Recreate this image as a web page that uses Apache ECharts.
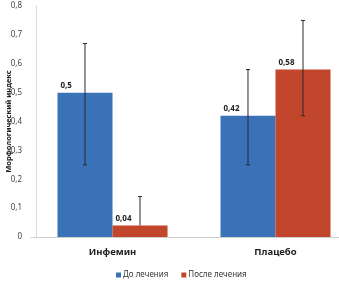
<!DOCTYPE html>
<html>
<head>
<meta charset="utf-8">
<script src="https://cdn.jsdelivr.net/npm/echarts@6/dist/echarts.min.js"></script>
<style>
  html, body { margin: 0; padding: 0; background: #fff; }
  #chart { width: 339px; height: 281px; }
</style>
</head>
<body>
<div id="chart"></div>
<script>
// данные
const categories = ['Инфемин', 'Плацебо']
const seriesNames = ['До лечения', 'После лечения']
const beforeValues = [0.5, 0.42]
const afterValues = [0.04, 0.58]
const beforeLow = [0.25, 0.25]
const beforeHigh = [0.67, 0.58]
const afterLow = [0.04, 0.42]
const afterHigh = [0.14, 0.75]

const colors = ['#3b71b6', '#c1462b']
const gapRatio = 0.325
const font = 'Noto Sans'

const chart = echarts.init(document.getElementById('chart'))

// усы погрешностей поверх столбцов
function errorSeries (name, values, low, high, side) {
  return {
    type: 'custom',
    name: name + ' err',
    z: 10,
    silent: true,
    data: values.map((v, i) => [i, v, low[i], high[i]]),
    renderItem (params, api) {
      const band = api.size([1, 0])[0]
      const barW = band * (1 - gapRatio) / 2
      const x = api.coord([api.value(0), 0])[0] + side * barW / 2
      const yv = api.coord([0, api.value(1)])[1]
      const yl = api.coord([0, api.value(2)])[1]
      const yh = api.coord([0, api.value(3)])[1]
      const style = { stroke: '#2a2a2a', lineWidth: 1 }
      const children = [
        { type: 'line', shape: { x1: x, y1: yl, x2: x, y2: yh }, style }
      ]
      children.push({ type: 'line', shape: { x1: x - 2, y1: yh, x2: x + 2, y2: yh }, style })
      if (Math.abs(yl - yv) > 1) {
        children.push({ type: 'line', shape: { x1: x - 2, y1: yl, x2: x + 2, y2: yl }, style })
      }
      return { type: 'group', children }
    }
  }
}

const barLabel = {
  show: true,
  position: [3, -11],
  fontFamily: font,
  fontSize: 8,
  fontWeight: 'bold',
  color: '#222',
  formatter: p => String(p.value).replace('.', ',')
}

const option = {
  animation: false,
  textStyle: { fontFamily: font },
  grid: { left: 31, top: 6, width: 326, bottom: 44, outerBoundsMode: 'none', containLabel: false },
  legend: {
    data: seriesNames,
    left: 111,
    top: 266,
    icon: 'rect',
    itemWidth: 5,
    itemHeight: 5,
    itemGap: 13,
    textStyle: { fontSize: 8, color: '#333', fontFamily: font, padding: [0, 0, 0, -3] }
  },
  xAxis: {
    type: 'category',
    data: categories,
    axisLine: { lineStyle: { color: '#cfcfcf' } },
    axisTick: { show: false },
    axisLabel: { fontSize: 9.5, fontWeight: 'bold', color: '#222', margin: 10 }
  },
  yAxis: {
    type: 'value',
    min: 0,
    max: 0.8,
    interval: 0.1,
    offset: -5,
    name: 'Морфологический индекс',
    nameLocation: 'middle',
    nameGap: 23,
    nameMoveOverlap: false,
    nameRotate: 90,
    nameTextStyle: { fontSize: 7.5, fontWeight: 'bold', color: '#222' },
    axisLine: { show: true, lineStyle: { color: '#d8d8d8' } },
    axisTick: { show: false },
    splitLine: { show: false },
    axisLabel: {
      fontSize: 8,
      color: '#444',
      margin: 14,
      formatter: v => String(Math.round(v * 10) / 10).replace('.', ',')
    }
  },
  series: [
    {
      type: 'bar',
      name: seriesNames[0],
      data: beforeValues,
      barGap: '0%',
      barCategoryGap: (gapRatio * 100) + '%',
      itemStyle: { color: colors[0] },
      label: barLabel
    },
    {
      type: 'bar',
      name: seriesNames[1],
      data: afterValues,
      itemStyle: { color: colors[1] },
      label: barLabel
    },
    errorSeries(seriesNames[0], beforeValues, beforeLow, beforeHigh, -1),
    errorSeries(seriesNames[1], afterValues, afterLow, afterHigh, 1)
  ]
}

chart.setOption(option)
</script>
</body>
</html>
